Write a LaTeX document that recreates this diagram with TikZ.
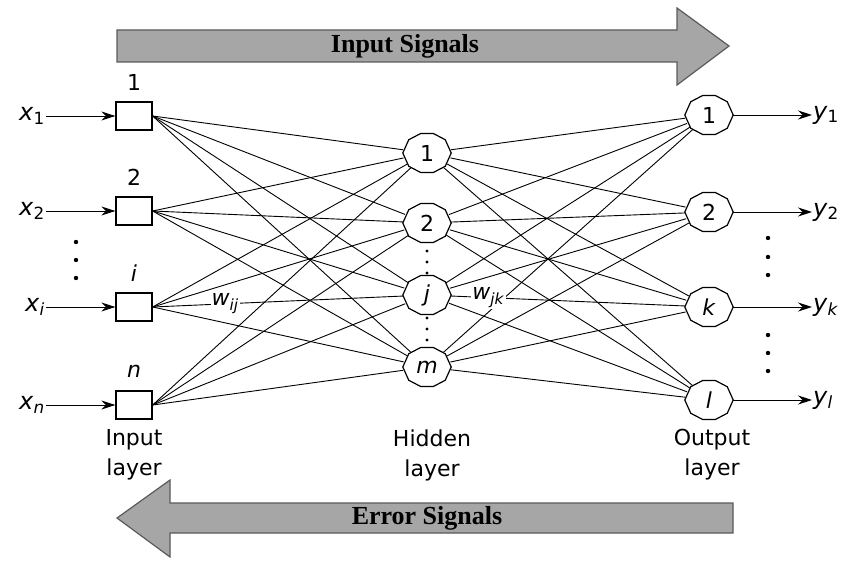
\documentclass[tikz,border=0pt]{standalone}
\usepackage{fontspec}
\setmainfont{DejaVu Sans}
\newfontfamily\signalfont{Liberation Serif}
\usetikzlibrary{arrows.meta,shapes.geometric}
\definecolor{bandgray}{RGB}{166,166,166}
\definecolor{bandline}{RGB}{90,90,90}
\tikzset{
	unit/.style={draw, line width=1.3pt, minimum width=36pt, minimum height=28pt, inner sep=0pt},
	neuron/.style={ellipse, minimum width=48pt, minimum height=40pt, inner sep=0pt, font=\fontsize{22}{24}\selectfont},
	cell/.style={line width=1.2pt},
	link/.style={line width=0.9pt},
	feed/.style={line width=0.9pt, -{Stealth[length=14pt,width=9pt]}},
	vartext/.style={inner sep=1pt, font=\fontsize{24}{26}\selectfont},
	numtext/.style={inner sep=0pt, font=\fontsize{22}{24}\selectfont},
	layertext/.style={align=center, font=\fontsize{22}{30}\selectfont},
	weight/.style={fill=white, inner sep=1pt, font=\fontsize{22}{24}\selectfont},
	signal/.style={draw=bandline, line width=1.2pt, fill=bandgray},
	signaltext/.style={font=\signalfont\bfseries\fontsize{26}{28}\selectfont},
}
\begin{document}
\begin{tikzpicture}[x=1pt, y=-1pt]
		\useasboundingbox (0,0) rectangle (848,561);
		%signal arrows
		\draw[signal] (117,30) -- (677,30) -- (677,8) -- (729,46) -- (677,85) -- (677,62) -- (117,62) -- cycle;
		\node[signaltext] (insig) at (405,46) {Input Signals};
		\draw[signal] (733,503) -- (170,503) -- (170,480) -- (117,518) -- (170,557) -- (170,533) -- (733,533) -- cycle;
		\node[signaltext] (errsig) at (427,518) {Error Signals};
		
		%input layer
		\foreach \u/\xn/\y/\top/\xlab in {u1/x1/116/1/{\textit{x}\textsubscript{1}}, u2/x2/211/2/{\textit{x}\textsubscript{2}}, ui/xi/307/\textit{i}/{\textit{x}\textsubscript{\textit{i}}}, un/xn/405/\textit{n}/{\textit{x}\textsubscript{\textit{n}}}}{
			\node[unit] (\u) at (134,\y) {};
			\node[numtext] (\u top) at (134,\y-34) {\top};
			\node[vartext, anchor=east] (\xn) at (46,\y) {\xlab};
			\draw[feed] (\xn) -- (\u);
		}
		\foreach \y in {242,260,278}{
			\fill (76,\y) circle (2.2);
		}
		
		%hidden layer
		\foreach \h/\y/\lab in {h1/153/1, h2/223/2, hj/295/\textit{j}, hm/367/\textit{m}}{
			\node[neuron] (\h) at (427,\y) {\lab};
		}
		\foreach \y in {251,262,273,318,329,340}{
			\fill (427,\y) circle (1.7);
		}
		
		%output layer
		\foreach \o/\yn/\y/\lab/\ylab in {o1/y1/115/1/{\textit{y}\textsubscript{1}}, o2/y2/212/2/{\textit{y}\textsubscript{2}}, ok/yk/307/\textit{k}/{\textit{y}\textsubscript{\textit{k}}}, ol/yl/400/\textit{l}/{\textit{y}\textsubscript{\textit{l}}}}{
			\node[neuron] (\o) at (709,\y) {\lab};
			\node[vartext, anchor=west] (\yn) at (812,\y) {\ylab};
			\draw[feed] (\o) -- (\yn);
		}
		\foreach \y in {238,257,275,335,353,371}{
			\fill (768,\y) circle (2.2);
		}
		
		%cell outlines
		\foreach \n in {h1,h2,hj,hm,o1,o2,ok,ol}{
			\draw[cell] (\n.0) -- (\n.36) -- (\n.72) -- (\n.108) -- (\n.144) -- (\n.180) -- (\n.216) -- (\n.252) -- (\n.288) -- (\n.324) -- cycle;
		}
		
		%connections
		\foreach \a in {u1,u2,ui,un}{
			\foreach \b in {h1,h2,hj,hm}{
				\draw[link] (\a.east) -- (\b);
			}
		}
		\foreach \a in {h1,h2,hj,hm}{
			\foreach \b in {o1,o2,ok,ol}{
				\draw[link] (\a) -- (\b);
			}
		}
		\path (ui.east) -- (hj) node[weight, pos=0.29] (wij) {\textit{w}\textsubscript{\textit{ij}}};
		\path (hj) -- (ok) node[weight, pos=0.16] (wjk) {\textit{w}\textsubscript{\textit{jk}}};
		
		%layer names
		\node[layertext] (inname) at (134,455) {Input\\layer};
		\node[layertext] (hidname) at (432,455) {Hidden\\layer};
		\node[layertext] (outname) at (712,455) {Output\\layer};
\end{tikzpicture}
\end{document}
